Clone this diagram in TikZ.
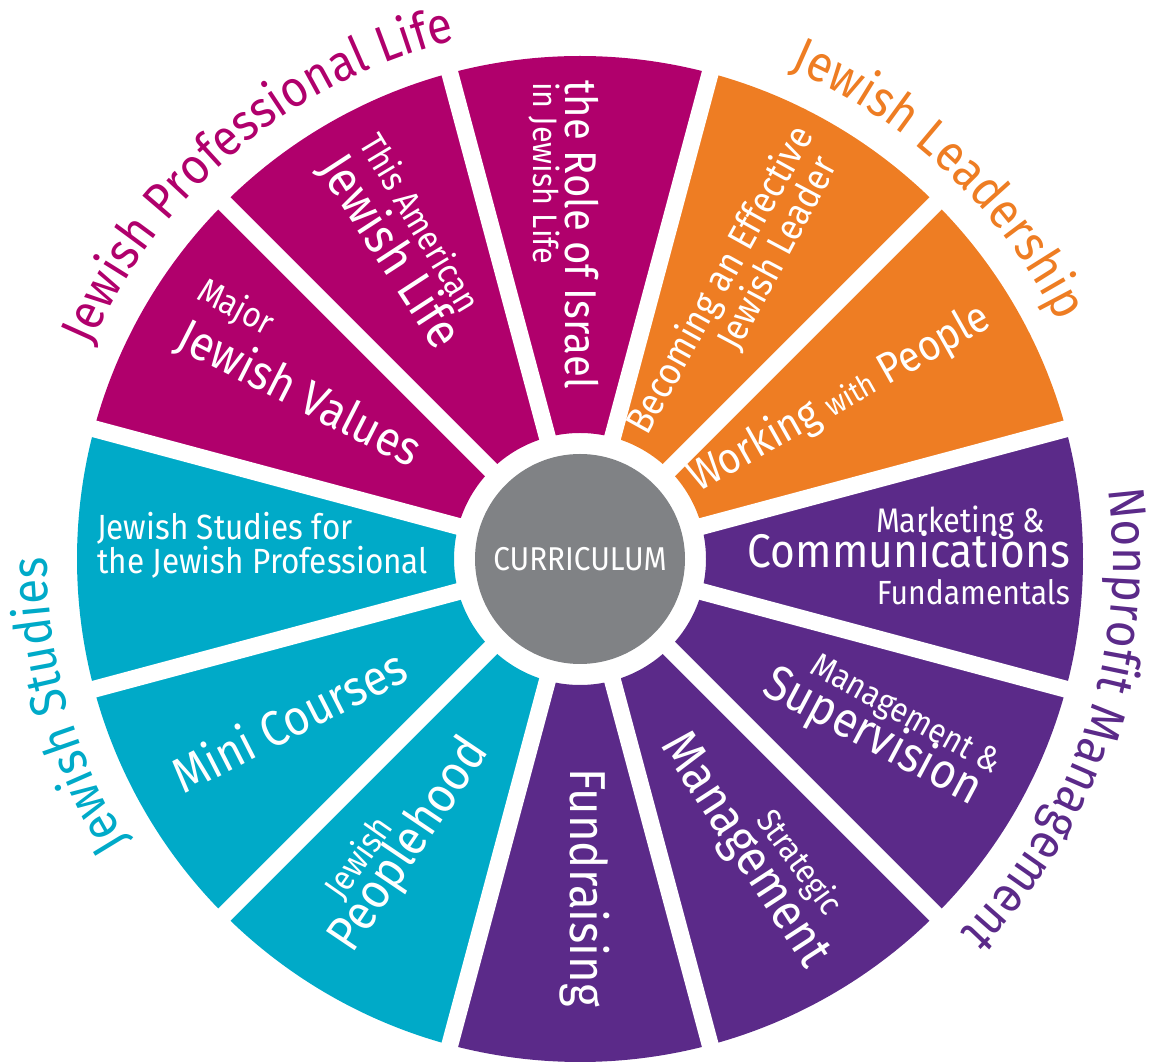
\documentclass[tikz,border=0pt]{standalone}
\usepackage{fontspec}
\setmainfont{Fira Sans}[FakeStretch=0.9]
\usepackage{tikz}
\usetikzlibrary{calc,decorations.text}
\usepackage{xcolor}
\definecolor{plMagenta}{RGB}{176,0,108}
\definecolor{jlOrange}{RGB}{238,125,35}
\definecolor{npPurple}{RGB}{91,42,137}
\definecolor{jsTeal}{RGB}{0,170,200}
\definecolor{hubGray}{RGB}{128,130,133}
\newcommand\ringfont{\fontsize{51bp}{55bp}\selectfont}
\newcommand\fsz[1]{\fontsize{#1bp}{#1bp}\selectfont}

\begin{document}
\begin{tikzpicture}[x=1bp,y=1bp,
  seg/.style={text=white,inner sep=0pt,anchor=base west},
  segbig/.style={seg,font=\fsz{50}},
  segmid/.style={seg,font=\fsz{38}},
  segsmall/.style={seg,font=\fsz{35}},
  ring text/.style 2 args={decorate,decoration={text along path,text align=center,text color=#1,text={|\ringfont|#2}}}
  ]
\useasboundingbox (0,0) rectangle (1156,1064);
\def\rin{126}
\def\rout{503}
\def\rtext{533}
\coordinate (O) at (580,505);                                      % centre of the wheel
\begin{scope}[shift={(O)}]
\foreach \a/\col in {0/npPurple,30/jlOrange,60/jlOrange,90/plMagenta,120/plMagenta,150/plMagenta,
                     180/jsTeal,210/jsTeal,240/jsTeal,270/npPurple,300/npPurple,330/npPurple}
  \fill[\col] ({\a-15}:\rin) arc[start angle=\a-15,end angle=\a+15,radius=\rin]
     -- ({\a+15}:\rout) arc[start angle=\a+15,end angle=\a-15,radius=\rout] -- cycle;
\foreach \a in {15,45,...,345}
  \draw[white,line width=17bp] (\a:100) -- (\a:520);               % gaps between segments
\end{scope}
\node[circle,fill=hubGray,minimum size=210bp,inner sep=0pt,text=white,font=\fsz{33}] (hub) at (O) {CURRICULUM};
% group titles round the rim
\path[ring text={plMagenta}{Jewish Professional Life}] ($(O)+(175:\rtext)$) arc[start angle=175,end angle=85,radius=\rtext];
\path[ring text={jlOrange}{Jewish Leadership}] ($(O)+(91.6:\rtext)$) arc[start angle=91.6,end angle=1.6,radius=\rtext];
\path[ring text={npPurple}{Nonprofit Management}] ($(O)+(26.5:\rtext)$) arc[start angle=26.5,end angle=-63.5,radius=\rtext];
\path[ring text={jsTeal}{Jewish Studies}] ($(O)+(241:\rtext)$) arc[start angle=241,end angle=151,radius=\rtext];
% segment texts
\node[segbig,rotate=-90,font=\fsz{44.5}] (israelA) at (565,984) {the Role of Israel};
\node[segsmall,rotate=-90,font=\fsz{34}] (israelB) at (533,982) {in Jewish Life};
\node[segsmall,rotate=-59] (americanA) at (358,921) {This American};
\node[segbig,rotate=-57,font=\fsz{50.5}] (americanB) at (317,896) {Jewish Life};
\node[segsmall,rotate=-28] (valuesA) at (195,766) {Major};
\node[segbig,rotate=-27,font=\fsz{48.5}] (valuesB) at (173,717) {Jewish Values};
\node[segsmall] (studiesA) at (97,524) {Jewish Studies for};
\node[segsmall] (studiesB) at (97,490) {the Jewish Professional};
\node[segbig,rotate=27,font=\fsz{49.5}] (mini) at (183,269) {Mini Courses};
\node[segsmall,rotate=55] (peopleA) at (342,162) {Jewish};
\node[segbig,rotate=56] (peopleB) at (352,109) {Peoplehood};
\node[segbig,rotate=-90,font=\fsz{50.5}] (fund) at (570,296) {Fundraising};
\node[segsmall,rotate=-54,font=\fsz{33.6}] (strategicA) at (755,244) {Strategic};
\node[segbig,rotate=-57,font=\fsz{51}] (strategicB) at (660,319) {Management};
\node[segsmall,rotate=-29,font=\fsz{34.3}] (supervA) at (808,392) {Management \&};
\node[segbig,rotate=-28,font=\fsz{49.7}] (supervB) at (760,371) {Supervision};
\node[segsmall,anchor=base east,font=\fsz{34.1}] (commA) at (1045,531) {Marketing \&};
\node[segbig,anchor=base east,font=\fsz{47.2}] (commB) at (1070,496) {Communications};
\node[segsmall,anchor=base east,font=\fsz{33.5}] (commC) at (1070,459) {Fundamentals};
\node[segbig,rotate=29.5,font=\fsz{43.3}] (working) at (698,571)
  {Working {\fsz{30.6}with} People};
\node[segmid,rotate=61,font=\fsz{38.4}] (leaderA) at (647,627) {Becoming an Effective};
\node[segmid,rotate=62,font=\fsz{37.8}] (leaderB) at (738,711) {Jewish Leader};
\end{tikzpicture}
\end{document}
